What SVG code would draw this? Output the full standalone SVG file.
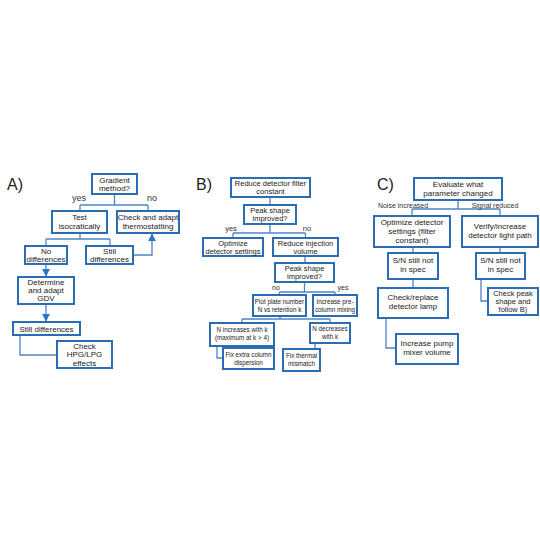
<svg xmlns="http://www.w3.org/2000/svg" width="540" height="540" viewBox="0 0 540 540">
<defs>
<style>
.b{fill:#ffffff;stroke:#2c6cb3;stroke-width:2}
.c{fill:none;stroke:#4c85c6;stroke-width:1.3}
.t{font-family:"Liberation Sans",Arial,sans-serif;fill:#222;text-anchor:middle}
.a{font-size:8px}
.m{font-size:7.5px}
.s{font-size:6.3px}
.l{font-family:"Liberation Sans",Arial,sans-serif;fill:#222;font-size:16px}
.lab{font-family:"Liberation Sans",Arial,sans-serif;fill:#333;text-anchor:middle}
</style>
<marker id="ah" viewBox="0 0 10 10" refX="9" refY="5" markerWidth="8" markerHeight="8" markerUnits="userSpaceOnUse" orient="auto">
<path d="M0,0 L10,5 L0,10 z" fill="#2e75c8"/>
</marker>
</defs>
<rect width="540" height="540" fill="#ffffff"/>

<text class="l" x="7" y="190">A)</text>
<text class="l" x="196" y="190">B)</text>
<text class="l" x="377" y="190">C)</text>

<g id="connectors">
<!-- A -->
<path class="c" d="M114.5,194 V205 M80,205 H148 M80,205 V211 M148,205 V211"/>
<path class="c" d="M80,233 V239 M46,239 H110 M46,239 V246 M110,239 V246"/>
<path class="c" d="M133,255 H152 V234" marker-end="url(#ah)"/>
<path class="c" d="M46,264 V276" marker-end="url(#ah)"/>
<path class="c" d="M46,304 V321" marker-end="url(#ah)"/>
<path class="c" d="M20,335 V355 H57"/>
<!-- B -->
<path class="c" d="M270,197 V205"/>
<path class="c" d="M270,224 V233 M233,233 H305.5 M233,233 V238 M305.5,233 V238"/>
<path class="c" d="M305,256 V263"/>
<path class="c" d="M304.5,282 V292 M279.5,292 H335 M279.5,292 V295 M335,292 V295"/>
<path class="c" d="M280,316 V319 M242,319 H330 M242,319 V323 M330,319 V323"/>
<path class="c" d="M217,346 V358 H223"/>
<path class="c" d="M315,343 V349"/>
<!-- C -->
<path class="c" d="M458,200 V209 M412,209 H500 M412,209 V216 M500,209 V216"/>
<path class="c" d="M413,247 V253 M413,279 V288"/>
<path class="c" d="M386,318 V348 H396"/>
<path class="c" d="M500,247 V253"/>
<path class="c" d="M481,279 V301 H488"/>
</g>

<!-- labels -->
<text class="lab" x="79" y="201" font-size="9">yes</text>
<text class="lab" x="152" y="201" font-size="9">no</text>
<text class="lab" x="231" y="231" font-size="7.5">yes</text>
<text class="lab" x="307" y="231" font-size="7.5">no</text>
<text class="lab" x="276" y="290" font-size="7">no</text>
<text class="lab" x="343" y="290" font-size="7">yes</text>
<text class="lab" x="403" y="207.5" font-size="7">Noise increased</text>
<text class="lab" x="495" y="207.5" font-size="7">Signal reduced</text>

<!-- Panel A -->
<g id="a-gradient"><rect class="b" x="92" y="174" width="45" height="20"/><text class="t a" x="114.5" y="182.5">Gradient</text><text class="t a" x="114.5" y="191">method?</text></g>
<g id="a-test"><rect class="b" x="52" y="211" width="55" height="22"/><text class="t a" x="79.5" y="220">Test</text><text class="t a" x="79.5" y="229">isocratically</text></g>
<g id="a-check"><rect class="b" x="117" y="211" width="62" height="22"/><text class="t a" x="148" y="220">Check and adapt</text><text class="t a" x="148" y="229">thermostatting</text></g>
<g id="a-nodiff"><rect class="b" x="25" y="246" width="42" height="18"/><text class="t a" x="46" y="254">No</text><text class="t a" x="46" y="262">differences</text></g>
<g id="a-stilldiff"><rect class="b" x="86" y="246" width="47" height="18"/><text class="t a" x="109.5" y="254">Still</text><text class="t a" x="109.5" y="262">differences</text></g>
<g id="a-gdv"><rect class="b" x="18" y="277" width="56" height="27"/><text class="t a" x="46" y="284.5">Determine</text><text class="t a" x="46" y="292.5">and adapt</text><text class="t a" x="46" y="301">GDV</text></g>
<g id="a-stilldiff2"><rect class="b" x="13" y="322" width="67" height="13"/><text class="t a" x="46.5" y="331.5">Still differences</text></g>
<g id="a-hpg"><rect class="b" x="57" y="341" width="55" height="27"/><text class="t a" x="84.5" y="348.5">Check</text><text class="t a" x="84.5" y="357">HPG/LPG</text><text class="t a" x="84.5" y="365.5">effects</text></g>

<!-- Panel B -->
<g id="b-reduce"><rect class="b" x="231" y="178" width="79" height="19"/><text class="t m" x="270.5" y="186">Reduce detector filter</text><text class="t m" x="270.5" y="194">constant</text></g>
<g id="b-peak1"><rect class="b" x="244" y="205" width="52" height="19"/><text class="t m" x="270" y="213">Peak shape</text><text class="t m" x="270" y="221">improved?</text></g>
<g id="b-optimize"><rect class="b" x="203" y="238" width="60" height="18"/><text class="t m" x="233" y="246">Optimize</text><text class="t m" x="233" y="254">detector settings</text></g>
<g id="b-injection"><rect class="b" x="273" y="238" width="65" height="18"/><text class="t m" x="305.5" y="246">Reduce injection</text><text class="t m" x="305.5" y="254">volume</text></g>
<g id="b-peak2"><rect class="b" x="275" y="263" width="59" height="19"/><text class="t m" x="304.5" y="271">Peak shape</text><text class="t m" x="304.5" y="279">improved?</text></g>
<g id="b-plot"><rect class="b" x="253" y="295" width="53" height="21"/><text class="t s" x="279.5" y="303.5">Plot plate number</text><text class="t s" x="279.5" y="311.5">N vs retention k</text></g>
<g id="b-premix"><rect class="b" x="313" y="295" width="44" height="21"/><text class="t s" x="335" y="303.5">Increase pre-</text><text class="t s" x="335" y="311.5">column mixing</text></g>
<g id="b-ninc"><rect class="b" x="210" y="323" width="64" height="23"/><text class="t s" x="242" y="332">N increases with k</text><text class="t s" x="242" y="340">(maximum at k &gt; 4)</text></g>
<g id="b-ndec"><rect class="b" x="310" y="323" width="40" height="20"/><text class="t s" x="330" y="331">N decreases</text><text class="t s" x="330" y="339">with k</text></g>
<g id="b-fixextra"><rect class="b" x="223" y="348" width="51" height="21"/><text class="t s" x="248.5" y="356.5">Fix extra column</text><text class="t s" x="248.5" y="364.5">dispersion</text></g>
<g id="b-fixthermal"><rect class="b" x="283" y="349" width="37" height="22"/><text class="t s" x="301.5" y="358">Fix thermal</text><text class="t s" x="301.5" y="366">mismatch</text></g>

<!-- Panel C -->
<g id="c-evaluate"><rect class="b" x="414" y="178" width="88" height="22"/><text class="t a" x="458" y="187">Evaluate what</text><text class="t a" x="458" y="196">parameter changed</text></g>
<g id="c-optimize"><rect class="b" x="374" y="216" width="76" height="31"/><text class="t a" x="412" y="225">Optimize detector</text><text class="t a" x="412" y="234">settings (filter</text><text class="t a" x="412" y="243">constant)</text></g>
<g id="c-verify"><rect class="b" x="462" y="216" width="76" height="31"/><text class="t a" x="500" y="229">Verify/increase</text><text class="t a" x="500" y="238">detector light path</text></g>
<g id="c-sn1"><rect class="b" x="388" y="253" width="50" height="26"/><text class="t a" x="413" y="263">S/N still not</text><text class="t a" x="413" y="272">in spec</text></g>
<g id="c-lamp"><rect class="b" x="378" y="288" width="70" height="30"/><text class="t a" x="413" y="300">Check/replace</text><text class="t a" x="413" y="309">detector lamp</text></g>
<g id="c-pump"><rect class="b" x="396" y="334" width="62" height="30"/><text class="t a" x="427" y="346">Increase pump</text><text class="t a" x="427" y="355">mixer volume</text></g>
<g id="c-sn2"><rect class="b" x="476" y="253" width="49" height="26"/><text class="t a" x="500.5" y="263">S/N still not</text><text class="t a" x="500.5" y="272">in spec</text></g>
<g id="c-peak"><rect class="b" x="488" y="288" width="50" height="27"/><text class="t m" x="513" y="296">Check peak</text><text class="t m" x="513" y="304">shape and</text><text class="t m" x="513" y="312">follow B)</text></g>
</svg>
